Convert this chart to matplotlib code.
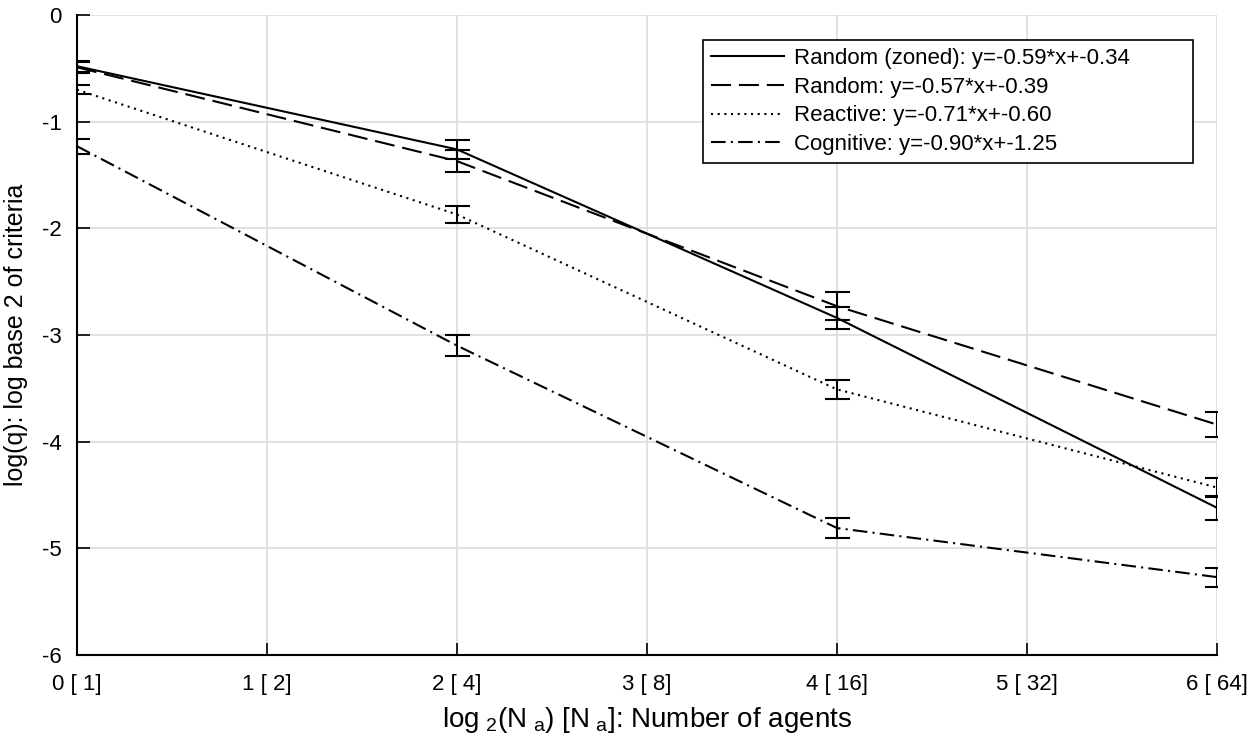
import numpy as np
import matplotlib
matplotlib.use("Agg")
import matplotlib.pyplot as plt

plt.rcParams["font.family"] = ["Liberation Sans", "DejaVu Sans"]
plt.rcParams["axes.unicode_minus"] = False
plt.rcParams["mathtext.default"] = "regular"

# log2 of number of agents
x = [0, 2, 4, 6]
xtick_labels = ["0 [ 1]", "1 [ 2]", "2 [ 4]", "3 [ 8]", "4 [ 16]", "5 [ 32]", "6 [ 64]"]

# mean log2(q) and error half-widths
zoned_y = [-0.48, -1.26, -2.84, -4.62]
zoned_err = [0.05, 0.09, 0.10, 0.11]
random_y = [-0.49, -1.37, -2.73, -3.84]
random_err = [0.05, 0.10, 0.13, 0.12]
reactive_y = [-0.70, -1.87, -3.51, -4.43]
reactive_err = [0.04, 0.08, 0.09, 0.085]
cognitive_y = [-1.23, -3.10, -4.81, -5.27]
cognitive_err = [0.07, 0.10, 0.09, 0.09]

labels = [
    "Random (zoned): y=-0.59*x+-0.34",
    "Random: y=-0.57*x+-0.39",
    "Reactive: y=-0.71*x+-0.60",
    "Cognitive: y=-0.90*x+-1.25",
]
styles = ["-", (0, (9.6, 3.8)), (0, (1, 2.2)), (0, (7, 2.5, 1, 2.5))]

fig = plt.figure(figsize=(12.58, 7.4), dpi=100)
ax = fig.add_axes([0.0612, 0.1149, 0.9062, 0.8648])

series = [(zoned_y, zoned_err), (random_y, random_err),
          (reactive_y, reactive_err), (cognitive_y, cognitive_err)]
handles = []
for (y, e), ls, lab in zip(series, styles, labels):
    ax.errorbar(x, y, yerr=e, fmt="none", ecolor="black", elinewidth=1.5,
                capsize=9, capthick=1.5, zorder=3)
    h, = ax.plot(x, y, color="black", linestyle=ls, linewidth=1.5, label=lab, zorder=4)
    handles.append(h)

ax.set_xlim(0, 6)
ax.set_ylim(-6, 0)
ax.set_xticks(range(7))
ax.set_xticklabels(xtick_labels)
ax.set_yticks(range(-6, 1))
ax.tick_params(direction="in", length=9, width=1.2, labelsize=16)
ax.tick_params(axis="x", pad=14)
ax.tick_params(axis="y", pad=11)
ax.grid(True, color="#dcdcdc", linewidth=1.2)
ax.set_axisbelow(True)
for s in ["top", "right"]:
    ax.spines[s].set_visible(False)
for s in ["left", "bottom"]:
    ax.spines[s].set_linewidth(1.5)

ax.set_xlabel(r"log$_{\ 2}$(N$_{\ a}$) [N$_{\ a}$]: Number of agents", fontsize=20, labelpad=7)
ax.set_ylabel("log(q): log base 2 of criteria", fontsize=18)
ax.yaxis.set_label_coords(-0.043, 0.5)

leg = ax.legend(handles=handles, loc="upper left", bbox_to_anchor=(0.549, 0.961, 0.430, 0.0),
                mode="expand", borderaxespad=0, fontsize=16, handlelength=3.3,
                fancybox=False, edgecolor="black", framealpha=1, borderpad=0.35,
                labelspacing=0.35, handletextpad=0.45)
leg.get_frame().set_linewidth(1.2)

fig.savefig("out.png", dpi=100)
